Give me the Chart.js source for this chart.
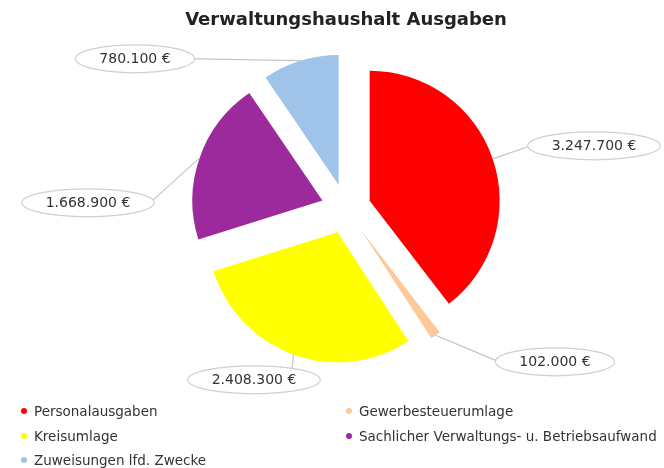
<!DOCTYPE html>
<html>
<head>
<meta charset="utf-8">
<script src="https://cdn.jsdelivr.net/npm/chart.js@4/dist/chart.umd.min.js"></script>
<style>
  html, body { margin: 0; padding: 0; background: #fff; }
</style>
</head>
<body>
<canvas id="chart" width="664" height="468"></canvas>
<script>
const categories = [
    'Personalausgaben',
    'Gewerbesteuerumlage',
    'Kreisumlage',
    'Sachlicher Verwaltungs- u. Betriebsaufwand',
    'Zuweisungen lfd. Zwecke'
];
const amounts = [3247700, 102000, 2408300, 1668900, 780100];
const sliceColors = ['#ff0000', '#ffc898', '#ffff00', '#9c2a9c', '#9fc3e9'];

// callout placement: text centre relative to the pie centre
const calloutOffsets = [[248, -63], [209, 153], [-92, 171], [-258, -6], [-211, -150]];

const EXPLODE = 25;
const FONT = '"DejaVu Sans", "Liberation Sans", sans-serif';

function euro(v) {
    return String(v).replace(/\B(?=(\d{3})+(?!\d))/g, '.') + ' €';
}

// pull each slice out along its bisector, all by the same distance
const explodePlugin = {
    id: 'explode',
    beforeDatasetsDraw(chart) {
        chart.getDatasetMeta(0).data.forEach(arc => {
            if (arc._exploded) return;
            const draw = arc.draw;
            arc.draw = function (ctx) {
                const mid = (this.startAngle + this.endAngle) / 2;
                ctx.save();
                ctx.translate(Math.cos(mid) * EXPLODE, Math.sin(mid) * EXPLODE);
                draw.call(this, ctx);
                ctx.restore();
            };
            arc._exploded = true;
        });
    }
};

const calloutPlugin = {
    id: 'callouts',
    afterDatasetsDraw(chart) {
        const ctx = chart.ctx;
        const meta = chart.getDatasetMeta(0);
        ctx.save();
        ctx.font = '14px ' + FONT;
        ctx.textAlign = 'center';
        ctx.textBaseline = 'middle';
        meta.data.forEach((arc, i) => {
            const mid = (arc.startAngle + arc.endAngle) / 2;
            const r = arc.outerRadius + EXPLODE;
            const ax = arc.x + Math.cos(mid) * r;
            const ay = arc.y + Math.sin(mid) * r;
            const text = euro(amounts[i]);
            const cx = arc.x + calloutOffsets[i][0];
            const cy = arc.y + calloutOffsets[i][1];
            const rx = ctx.measureText(text).width / 2 + 24;
            const ry = 14;

            // nearest point of the ellipse to the anchor
            let best = null, bd = Infinity;
            for (let k = 0; k < 360; k++) {
                const t = k * Math.PI / 180;
                const px = cx + Math.cos(t) * rx, py = cy + Math.sin(t) * ry;
                const d = (px - ax) ** 2 + (py - ay) ** 2;
                if (d < bd) { bd = d; best = [px, py]; }
            }
            ctx.strokeStyle = '#c4c4c4';
            ctx.lineWidth = 1.2;
            ctx.beginPath();
            ctx.moveTo(ax, ay);
            ctx.lineTo(best[0], best[1]);
            ctx.stroke();

            ctx.beginPath();
            ctx.ellipse(cx, cy, rx, ry, 0, 0, Math.PI * 2);
            ctx.fillStyle = '#fff';
            ctx.fill();
            ctx.strokeStyle = '#cfcfcf';
            ctx.stroke();

            ctx.fillStyle = '#333';
            ctx.fillText(text, cx, cy + 1);
        });
        ctx.restore();
    }
};

const legendPlugin = {
    id: 'gridLegend',
    afterDraw(chart) {
        const ctx = chart.ctx;
        const colX = [24, 349];
        const rowY = [411, 436, 460];
        ctx.save();
        ctx.font = '13.5px ' + FONT;
        ctx.textBaseline = 'middle';
        categories.forEach((name, i) => {
            const x = colX[i % 2];
            const y = rowY[Math.floor(i / 2)];
            ctx.fillStyle = sliceColors[i];
            ctx.beginPath();
            ctx.arc(x, y, 3, 0, Math.PI * 2);
            ctx.fill();
            ctx.fillStyle = '#333';
            ctx.fillText(name, x + 10, y + 1);
        });
        ctx.restore();
    }
};

new Chart(document.getElementById('chart'), {
    type: 'pie',
    data: {
        labels: categories,
        datasets: [{
            data: amounts,
            backgroundColor: sliceColors,
            borderWidth: 0,
            radius: 130
        }]
    },
    options: {
        responsive: false,
        animation: false,
        layout: { padding: { left: 28, right: 0, top: 0, bottom: 92 } },
        plugins: {
            legend: { display: false },
            tooltip: { enabled: false },
            title: {
                display: true,
                text: 'Verwaltungshaushalt Ausgaben',
                color: '#222',
                font: { family: FONT, size: 18, weight: 'bold' },
                padding: 10
            }
        }
    },
    plugins: [explodePlugin, calloutPlugin, legendPlugin]
});
</script>
</body>
</html>
